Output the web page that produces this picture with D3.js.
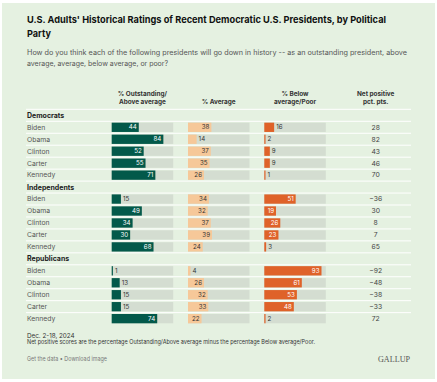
<!DOCTYPE html>
<html><head><meta charset="utf-8">
<script src="https://cdn.jsdelivr.net/npm/d3@7"></script>
<style>
html,body{margin:0;padding:0;background:#fff;}
svg{display:block;font-family:Inter,"Liberation Sans",sans-serif;}
</style></head>
<body>
<svg id="c" width="437" height="382"></svg>
<script>
const groups = ["Democrats", "Independents", "Republicans"];
const presidents = ["Biden", "Obama", "Clinton", "Carter", "Kennedy"];
const outstanding = [[44, 84, 52, 55, 71], [15, 49, 34, 30, 68], [1, 13, 15, 15, 74]];
const average = [[38, 14, 37, 35, 26], [34, 32, 37, 39, 24], [4, 26, 32, 33, 22]];
const belowPoor = [[16, 2, 9, 9, 1], [51, 19, 26, 23, 3], [93, 61, 53, 48, 2]];
const netPositive = [[28, 82, 43, 46, 70], [-36, 30, 8, 7, 65], [-92, -48, -38, -33, 72]];
const columnHeaders = [["% Outstanding/", "Above average"], ["% Average"], ["% Below", "average/Poor"], ["Net positive", "pct. pts."]];

const svg = d3.select("#c");
svg.append("rect").attr("x", 2).attr("y", 3).attr("width", 433).attr("height", 376).attr("fill", "#e5f1e1");

function fitText(sel, w) { sel.attr("textLength", w).attr("lengthAdjust", "spacingAndGlyphs"); }

// Title
const t1 = svg.append("text").attr("x", 27).attr("y", 22.5).attr("font-size", 9.6).attr("font-weight", 700).attr("fill", "#111")
  .text("U.S. Adults' Historical Ratings of Recent Democratic U.S. Presidents, by Political");
fitText(t1, 359);
const t2 = svg.append("text").attr("x", 27).attr("y", 36.8).attr("font-size", 9.6).attr("font-weight", 700).attr("fill", "#111").text("Party");
fitText(t2, 24);
const s1 = svg.append("text").attr("x", 27).attr("y", 55.2).attr("font-size", 7).attr("fill", "#555")
  .text("How do you think each of the following presidents will go down in history -- as an outstanding president, above");
fitText(s1, 380);
const s2 = svg.append("text").attr("x", 27).attr("y", 66).attr("font-size", 7).attr("fill", "#555")
  .text("average, average, below average, or poor?");
fitText(s2, 141);

// Rows
const rows = [];
groups.forEach((g, gi) => {
  rows.push({type: "group", label: g});
  presidents.forEach((p, pi) => rows.push({type: "row", label: p, gi, pi}));
});
const y = d3.scaleLinear().domain([0, rows.length - 1]).range([115.3, 318.6]);
const colX = [111.7, 188, 264.3];
const xw = d3.scaleLinear().domain([0, 100]).range([0, 61.5]);
const colors = ["#03594a", "#f6c899", "#df6229"];
const track = "#d4ddd1";
const labelInside = ["#fff", "#333", "#fff"];
const series = [outstanding, average, belowPoor];

// separator lines
svg.append("line").attr("x1", 26).attr("x2", 411).attr("y1", y(0) - 6).attr("y2", y(0) - 6).attr("stroke", "#fff").attr("stroke-width", 1);
rows.forEach((r, i) => {
  if (i < rows.length - 1)
    svg.append("line").attr("x1", 26).attr("x2", 411).attr("y1", y(i) + 6).attr("y2", y(i) + 6).attr("stroke", "#fff").attr("stroke-width", 1);
});

// headers
const headerCenters = [colX[0] + 30.7, colX[1] + 30.7, colX[2] + 30.7, 375.7];
columnHeaders.forEach((h, hi) => {
  const lines = h.length === 2 ? [95.8, 103.6] : [103.6];
  h.forEach((ln, li) => {
    svg.append("text").attr("x", headerCenters[hi]).attr("y", lines[li]).attr("text-anchor", "middle")
      .attr("font-size", 6.4).attr("font-weight", 700).attr("fill", "#333").text(ln);
  });
});

rows.forEach((r, i) => {
  const cy = y(i);
  if (r.type === "group") {
    svg.append("text").attr("x", 27).attr("y", cy + 2.5).attr("font-size", 7).attr("font-weight", 700).attr("fill", "#222").text(r.label);
    return;
  }
  svg.append("text").attr("x", 27).attr("y", cy + 2.4).attr("font-size", 6.8).attr("fill", "#555").text(r.label);
  series.forEach((s, si) => {
    const v = s[r.gi][r.pi];
    const x0 = colX[si];
    svg.append("rect").attr("x", x0).attr("y", cy - 4.6).attr("width", xw(100)).attr("height", 9.3).attr("fill", track);
    svg.append("rect").attr("x", x0).attr("y", cy - 4.6).attr("width", Math.max(xw(v), 1.2)).attr("height", 9.3).attr("fill", colors[si]);
    const inside = v >= 17;
    svg.append("text")
      .attr("x", inside ? x0 + xw(v) - 2 : x0 + Math.max(xw(v), 1.2) + 2)
      .attr("y", cy + 2.2)
      .attr("text-anchor", inside ? "end" : "start")
      .attr("font-size", 6.2)
      .attr("fill", inside ? labelInside[si] : "#333")
      .text(v);
  });
  const n = netPositive[r.gi][r.pi];
  svg.append("text").attr("x", 375.7).attr("y", cy + 2.4).attr("text-anchor", "middle").attr("font-size", 6.8).attr("fill", "#444")
    .text(n < 0 ? "\u2212" + Math.abs(n) : n);
});

// footer
svg.append("text").attr("x", 27).attr("y", 337.5).attr("font-size", 6.3).attr("fill", "#333").text("Dec. 2-18, 2024");
const f2 = svg.append("text").attr("x", 27).attr("y", 344).attr("font-size", 6.3).attr("fill", "#333")
  .text("Net positive scores are the percentage Outstanding/Above average minus the percentage Below average/Poor.");
fitText(f2, 288);
const f3 = svg.append("text").attr("x", 27).attr("y", 360.8).attr("font-size", 6.3).attr("fill", "#777").text("Get the data \u2022 Download image");
fitText(f3, 80);
const g = svg.append("text").attr("x", 410).attr("y", 361.8).attr("text-anchor", "end").attr("font-family", "'Liberation Serif','DejaVu Serif',serif")
  .attr("font-size", 9).attr("fill", "#555").text("GALLUP");
fitText(g, 32);
</script>
</body></html>
